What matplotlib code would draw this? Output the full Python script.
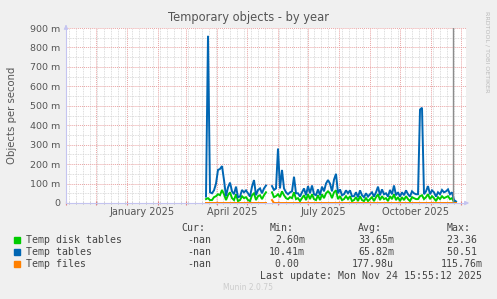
import numpy as np
import pandas as pd
import matplotlib
matplotlib.use("Agg")
import matplotlib.pyplot as plt
import matplotlib.dates as mdates
import matplotlib.transforms as mtrans

nan = np.nan

# daily averages, one sample every 2 days, in milli-objects per second
dates = pd.date_range("2025-03-21", periods=126, freq="2D")

temp_disk_tables = [
    20, 25, 15, 15, 30, 35, 45, 40, 67, 45,
    15, 40, 55, 25, 15, 45, 10, 15, 35, 25,
    30, 15, 10, 40, 50, 15, 35, 40, 20, 40,
    55, nan, nan, 55, 30, 35, 45, 30, 60, 40,
    25, 20, 30, 25, 55, 20, 25, 10, 25, 40,
    15, 45, 20, 45, 20, 15, 40, 15, 45, 25,
    50, 60, 50, 25, 55, 65, 20, 35, 15, 20,
    35, 20, 35, 10, 15, 30, 10, 35, 15, 10,
    25, 10, 20, 30, 10, 30, 45, 15, 35, 20,
    25, 10, 35, 20, 45, 15, 30, 10, 30, 15,
    35, 20, 10, 30, 25, 20, 20, 35, 40, 20,
    30, 45, 20, 35, 25, 10, 30, 20, 35, 25,
    30, 35, 20, 25, 5, 3,
]

temp_tables = [
    33, 860, 55, 50, 65, 100, 170, 175, 190, 118,
    35, 80, 105, 60, 45, 84, 30, 33, 67, 55,
    65, 50, 33, 84, 118, 40, 67, 75, 50, 75,
    90, nan, nan, 87, 67, 75, 280, 75, 170, 75,
    55, 45, 55, 60, 135, 50, 50, 33, 55, 75,
    40, 87, 50, 90, 45, 40, 70, 40, 84, 60,
    100, 118, 100, 60, 120, 150, 50, 70, 40, 45,
    65, 50, 65, 35, 35, 55, 30, 65, 40, 30,
    50, 33, 45, 55, 33, 55, 84, 40, 70, 45,
    50, 33, 67, 45, 90, 40, 55, 33, 55, 40,
    65, 45, 33, 60, 50, 45, 45, 480, 490, 45,
    60, 87, 45, 65, 55, 33, 55, 45, 67, 55,
    60, 70, 45, 55, 15, 8,
]

temp_files = [0.0] * 31 + [nan, nan, 15.0] + [0.0] * 92

series = [
    ("Temp disk tables", temp_disk_tables, "#00CC00", "-nan", "2.60m", "33.65m", "23.36 "),
    ("Temp tables", temp_tables, "#0066B3", "-nan", "10.41m", "65.82m", "50.51 "),
    ("Temp files", temp_files, "#FF8000", "-nan", "0.00 ", "177.98u", "115.76m"),
]

y_ticks = [0, 100, 200, 300, 400, 500, 600, 700, 800, 900]
month_labels = ["January 2025", "April 2025", "July 2025", "October 2025"]
label_dates = ["2025-01-16", "2025-04-16", "2025-07-16", "2025-10-16"]

W, H = 497, 299
fig = plt.figure(figsize=(W / 100, H / 100), dpi=100, facecolor="#F0F0F0")
ax = fig.add_axes([66 / W, 1 - 203 / H, 400 / W, 175 / H])
ax.set_facecolor("white")

for name, vals, col, *_ in series:
    ax.plot(dates, vals, color=col, lw=1.4, solid_joinstyle="miter", zorder=3)

now = pd.Timestamp("2025-11-23")
ax.axvline(now, color="#8C8C8C", lw=1.0, zorder=4)

ax.set_xlim(pd.Timestamp("2024-11-01"), pd.Timestamp("2025-12-06"))
ax.set_ylim(0, 900)

# grid, rrdtool style
ax.set_yticks(y_ticks)
ax.set_yticks(np.arange(50, 900, 100), minor=True)
ax.set_yticklabels(["0"] + [f"{v} m" for v in y_ticks[1:]])
ax.xaxis.set_major_locator(mdates.MonthLocator())
ax.xaxis.set_minor_locator(mdates.WeekdayLocator(byweekday=mdates.MO))
ax.xaxis.set_major_formatter(plt.NullFormatter())
ax.grid(which="major", color="#E9A3A3", ls=(0, (1, 1)), lw=0.7, zorder=1)
ax.grid(which="minor", color="#D2D2D2", ls=(0, (1, 1)), lw=0.6, zorder=1)

ax.tick_params(axis="y", which="both", length=0, labelsize=6.8, labelcolor="#555555", pad=4)
ax.tick_params(axis="x", which="major", length=2.5, direction="inout", color="#E08080")
ax.tick_params(axis="x", which="minor", length=1.5, direction="inout", color="#AAAAAA")

for s in ["top", "right"]:
    ax.spines[s].set_visible(False)
for s in ["left", "bottom"]:
    ax.spines[s].set_color("#C4C4F0")
    ax.spines[s].set_linewidth(0.8)

# axis arrows
ax.annotate("", xy=(0, 1.035), xytext=(0, 0.99), xycoords="axes fraction",
            arrowprops=dict(arrowstyle="-|>", color="#C4C4F0", lw=0.8, mutation_scale=6),
            annotation_clip=False)
ax.annotate("", xy=(1.015, 0), xytext=(0.99, 0), xycoords="axes fraction",
            arrowprops=dict(arrowstyle="-|>", color="#C4C4F0", lw=0.8, mutation_scale=6),
            annotation_clip=False)

trans = mtrans.blended_transform_factory(ax.transData, fig.transFigure)
for lab, d in zip(month_labels, label_dates):
    ax.text(pd.Timestamp(d), 1 - 212 / H, lab, transform=trans, ha="center", va="center",
            fontsize=7, color="#555555")

fig.text(248 / W, 1 - 18 / H, "Temporary objects - by year", ha="center", va="center",
         fontsize=8.3, color="#555555")
fig.text(12 / W, 1 - 115 / H, "Objects per second", rotation=90, ha="center", va="center",
         fontsize=7.3, color="#555555")
fig.text(487 / W, 1 - 52 / H, "RRDTOOL / TOBI OETIKER", rotation=270, ha="center", va="center",
         fontsize=4.6, color="#BBBBBB")

# legend block
mono = dict(family="DejaVu Sans Mono", fontsize=7.1, color="#444444", va="center")
hy = 1 - 228 / H
for txt, xr in [("Cur:", 205), ("Min:", 294), ("Avg:", 382), ("Max:", 471)]:
    fig.text(xr / W, hy, txt, ha="right", **mono)
for i, (name, vals, col, cur, mn, av, mx) in enumerate(series):
    yy = 1 - (240 + 12 * i) / H
    fig.patches.append(plt.Rectangle((14 / W, yy - 3 / H), 6 / W, 6 / H, color=col,
                                     transform=fig.transFigure, figure=fig))
    fig.text(26 / W, yy, name, ha="left", **mono)
    fig.text(211 / W, yy, cur, ha="right", **mono)
    fig.text(305 / W, yy, mn, ha="right", **mono)
    fig.text(394 / W, yy, av, ha="right", **mono)
    fig.text(483 / W, yy, mx, ha="right", **mono)

fig.text(482 / W, 1 - 276 / H, "Last update: Mon Nov 24 15:55:12 2025", ha="right", **mono)
fig.text(248 / W, 1 - 288 / H, "Munin 2.0.75", ha="center", va="center", fontsize=5.5,
         color="#CCCCCC")

fig.savefig("out.png", dpi=100, facecolor=fig.get_facecolor())
